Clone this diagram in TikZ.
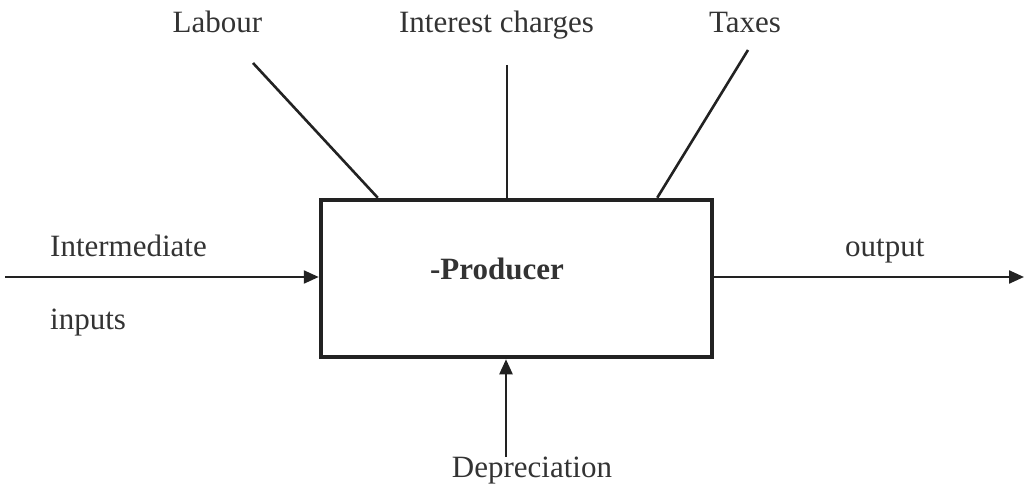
\documentclass[tikz,border=0pt]{standalone}
\usepackage{fontspec}
\setmainfont{Liberation Serif}
\usetikzlibrary{arrows.meta,calc}
\definecolor{ink}{HTML}{222222}
\definecolor{txt}{HTML}{333333}
\tikzset{
  lbl/.style={inner sep=0pt, anchor=base, text=txt, font=\fontsize{31}{36}\selectfont},
  lblw/.style={lbl, anchor=base west},
  feed/.style={draw=ink, line width=2.6pt},
  flow/.style={draw=ink, line width=2.3pt, -{Triangle[length=15pt,width=13pt]}},
  prodbox/.style={draw=ink, line width=4.5pt, rectangle, minimum width=391pt,
    minimum height=157pt, inner sep=0pt}
}
\begin{document}
\begin{tikzpicture}[x=1pt,y=-1pt]
\useasboundingbox (0,0) rectangle (1025,484);

% producer box
\node[prodbox] (box) at (516.5,278.5) {};
\node[lbl, font=\fontsize{31}{36}\selectfont\bfseries] (prod) at (497,279) {-Producer};

% labels
\node[lbl] (labour) at (217.5,33) {Labour};
\node[lbl] (interest) at (496.5,33) {Interest charges};
\node[lbl] (taxes) at (745,33) {Taxes};
\node[lblw] (inter) at (50,256) {Intermediate};
\node[lblw] (inputs) at (50,329) {inputs};
\node[lblw] (output) at (845,256) {output};
\node[lbl] (deprec) at (532,477) {Depreciation};

% free ends of the connectors
\coordinate (labEnd) at (253,63);
\coordinate (intEnd) at (507,65);
\coordinate (taxEnd) at (748,50);
\coordinate (inEnd) at (5,277);
\coordinate (outEnd) at (1024,277);
\coordinate (depEnd) at (506,457);

% cost inputs entering from above
\draw[feed] (labEnd) -- ([xshift=59pt]box.north west);
\draw[feed] (intEnd) -- (intEnd |- box.north);
\draw[feed] (taxEnd) -- ([xshift=-57pt]box.north east);

% flows
\draw[flow] (inEnd) -- (inEnd -| box.west);
\draw[flow] (outEnd -| box.east) -- (outEnd);
\draw[flow] (depEnd) -- (depEnd |- box.south);
\end{tikzpicture}
\end{document}
